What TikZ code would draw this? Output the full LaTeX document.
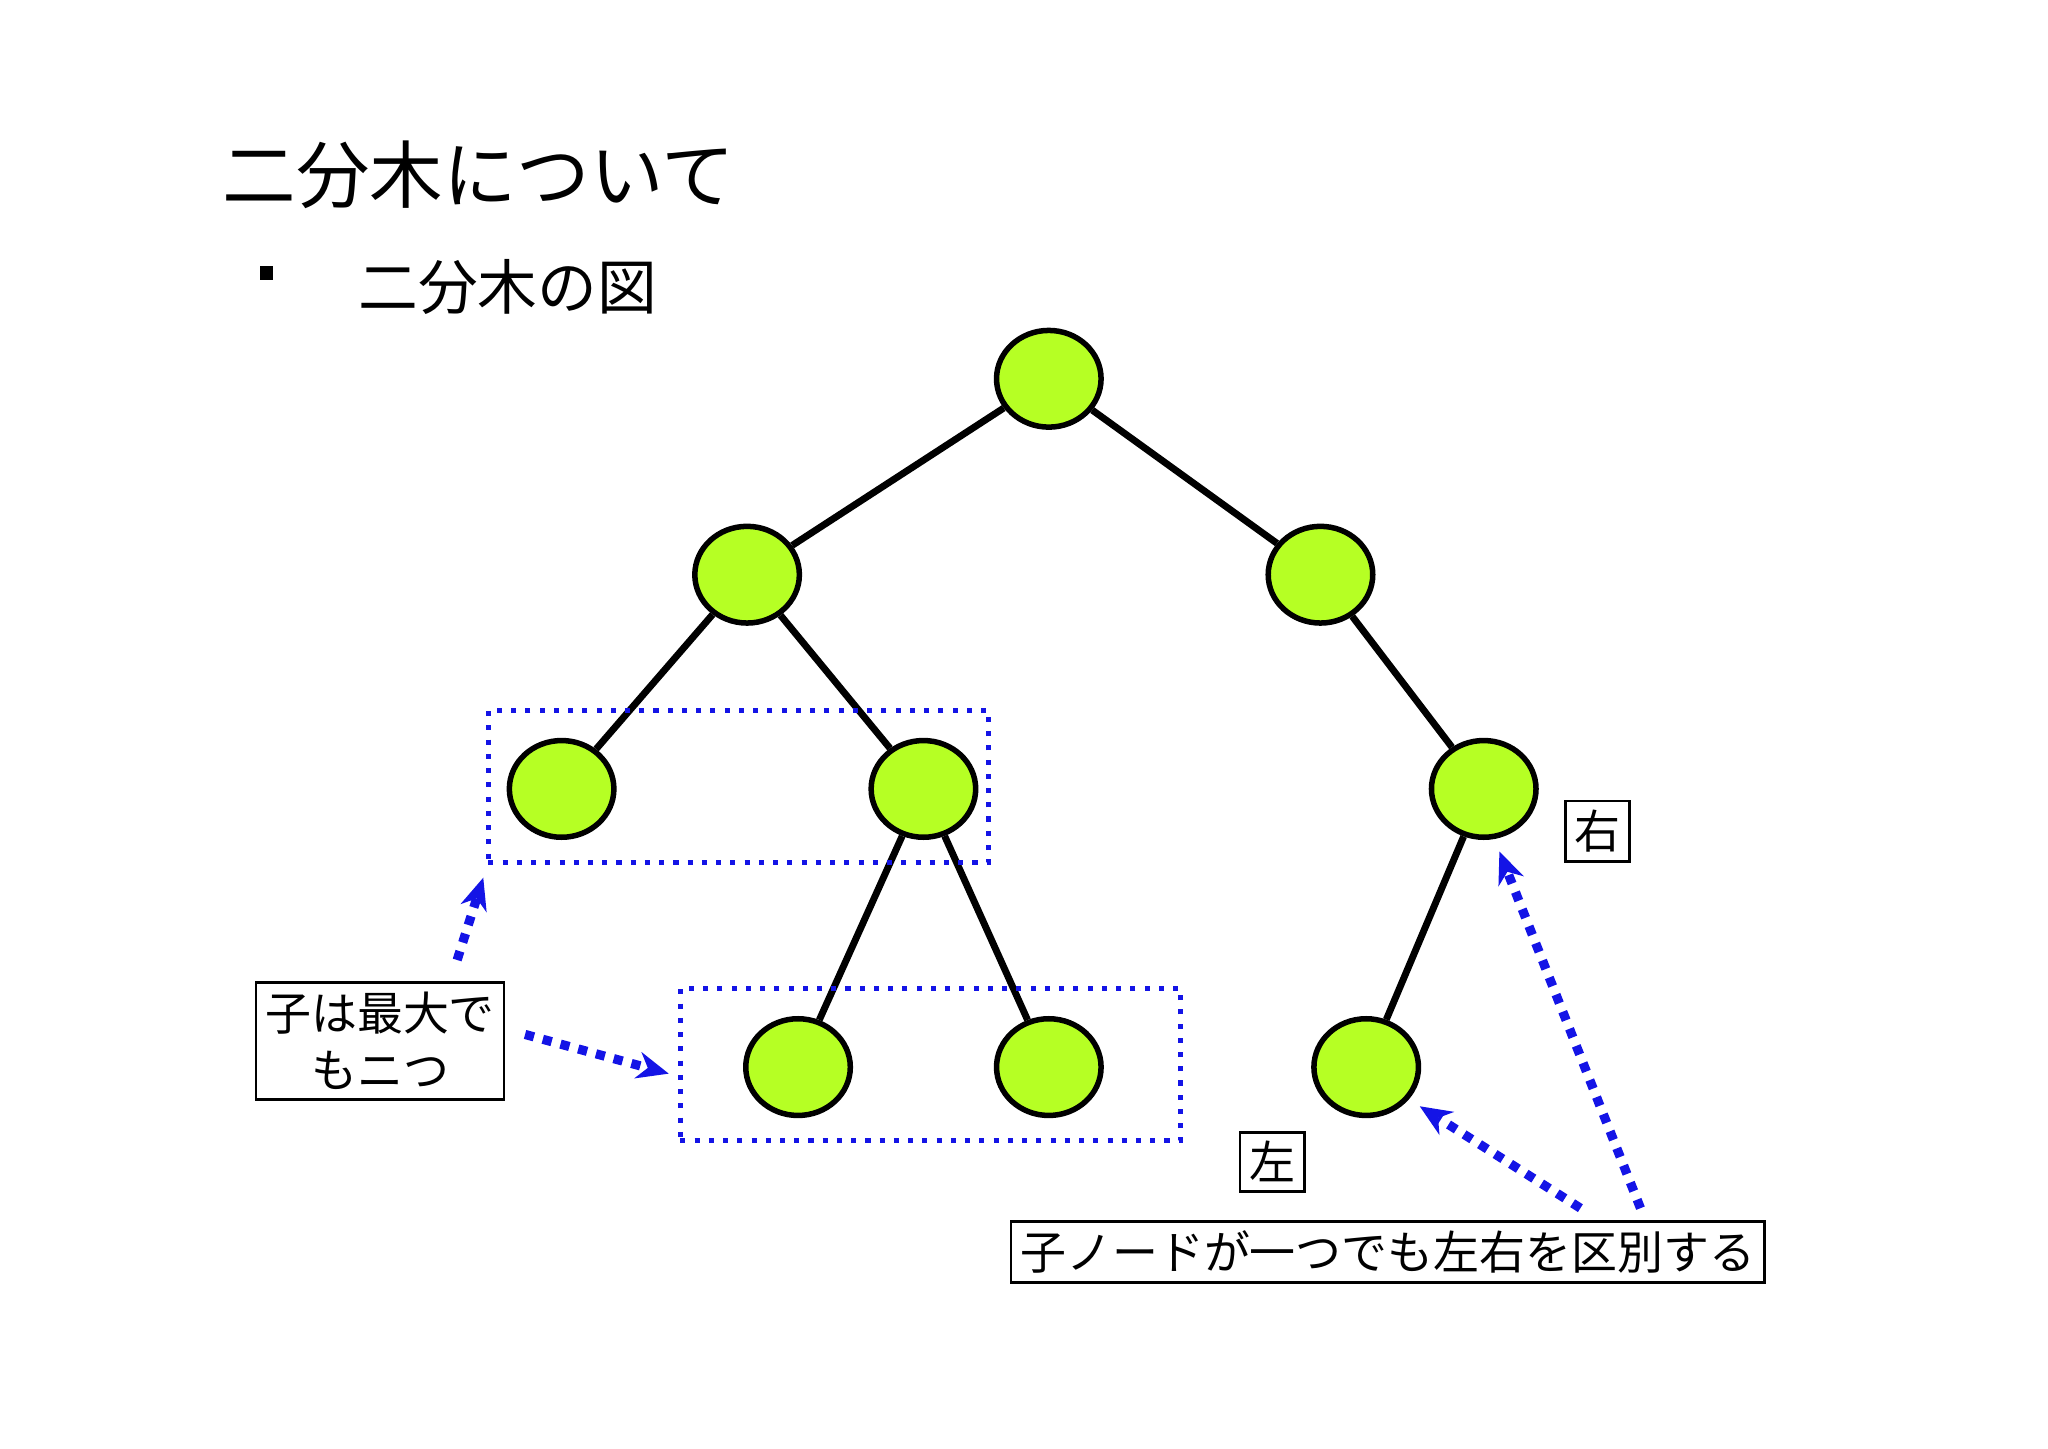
\documentclass[tikz,border=0pt]{standalone}
\usepackage{fontspec}
\setmainfont{Noto Sans CJK JP}
\usetikzlibrary{shapes.geometric,arrows.meta}
\definecolor{lime}{RGB}{182,255,36}
\definecolor{dblue}{RGB}{20,20,230}
\tikzset{
 tn/.style={ellipse,draw=black,line width=1.2pt,fill=lime,minimum width=0.8cm,minimum height=0.74cm,inner sep=0},
 edge/.style={line width=1.5pt},
 dbox/.style={draw=dblue,line width=1.1pt,dotted},
 lab/.style={draw=black,line width=0.6pt,font=\fontsize{10}{12}\selectfont,inner sep=2pt},
 arr/.style={draw=dblue,line width=2pt,dotted,-{Stealth[length=7pt,width=6pt,line width=0pt]}}
}
\begin{document}
\begin{tikzpicture}[x=0.01cm,y=-0.01cm]
\useasboundingbox (0,0) rectangle (1568,1109);
\node[anchor=base west,font=\fontsize{16}{18}\selectfont] (title) at (158,155) {二分木について};
\node[fill=black,minimum size=0.1cm,inner sep=0] (bul) at (204,209) {};
\node[anchor=base west,font=\fontsize{13}{15}\selectfont] (sub) at (262,237) {二分木の図};
\node[tn] (r) at (803,290) {};
\node[tn] (a) at (572,440) {};
\node[tn] (b) at (1011,440) {};
\node[tn] (aa) at (430,604) {};
\node[tn] (ab) at (707,604) {};
\node[tn] (bb) at (1136,604) {};
\node[tn] (aba) at (611,817) {};
\node[tn] (abb) at (803,817) {};
\node[tn] (bba) at (1046,817) {};
\draw[edge] (r)--(a) (r)--(b) (a)--(aa) (a)--(ab) (b)--(bb) (ab)--(aba) (ab)--(abb) (bb)--(bba);
\node[dbox,minimum width=3.83cm,minimum height=1.16cm] (box1) at (565.5,602) {};
\node[dbox,minimum width=3.83cm,minimum height=1.16cm] (box2) at (712.5,815) {};
\node[lab] (right) at (1223,636.5) {右};
\node[lab] (left) at (974,889.5) {左};
\node[lab,align=center,minimum width=1.82cm,minimum height=0.82cm,font=\fontsize{10}{12.5}\selectfont] (two) at (291,797) {子は最大で\\もニつ};
\node[lab,minimum width=5.57cm,minimum height=0.47cm] (dist) at (1062.5,958.5) {子ノードが一つでも左右を区別する};
\coordinate (s1) at (350,735); \coordinate (e1) at (370,672);
\coordinate (s2) at (402,792); \coordinate (e2) at (512,822);
\coordinate (s3) at (1210,925); \coordinate (e3) at (1087,847);
\coordinate (s4) at (1256,925); \coordinate (e4) at (1148,652);
\draw[arr] (s1)--(e1);
\draw[arr] (s2)--(e2);
\draw[arr] (s3)--(e3);
\draw[arr] (s4)--(e4);
\end{tikzpicture}
\end{document}
